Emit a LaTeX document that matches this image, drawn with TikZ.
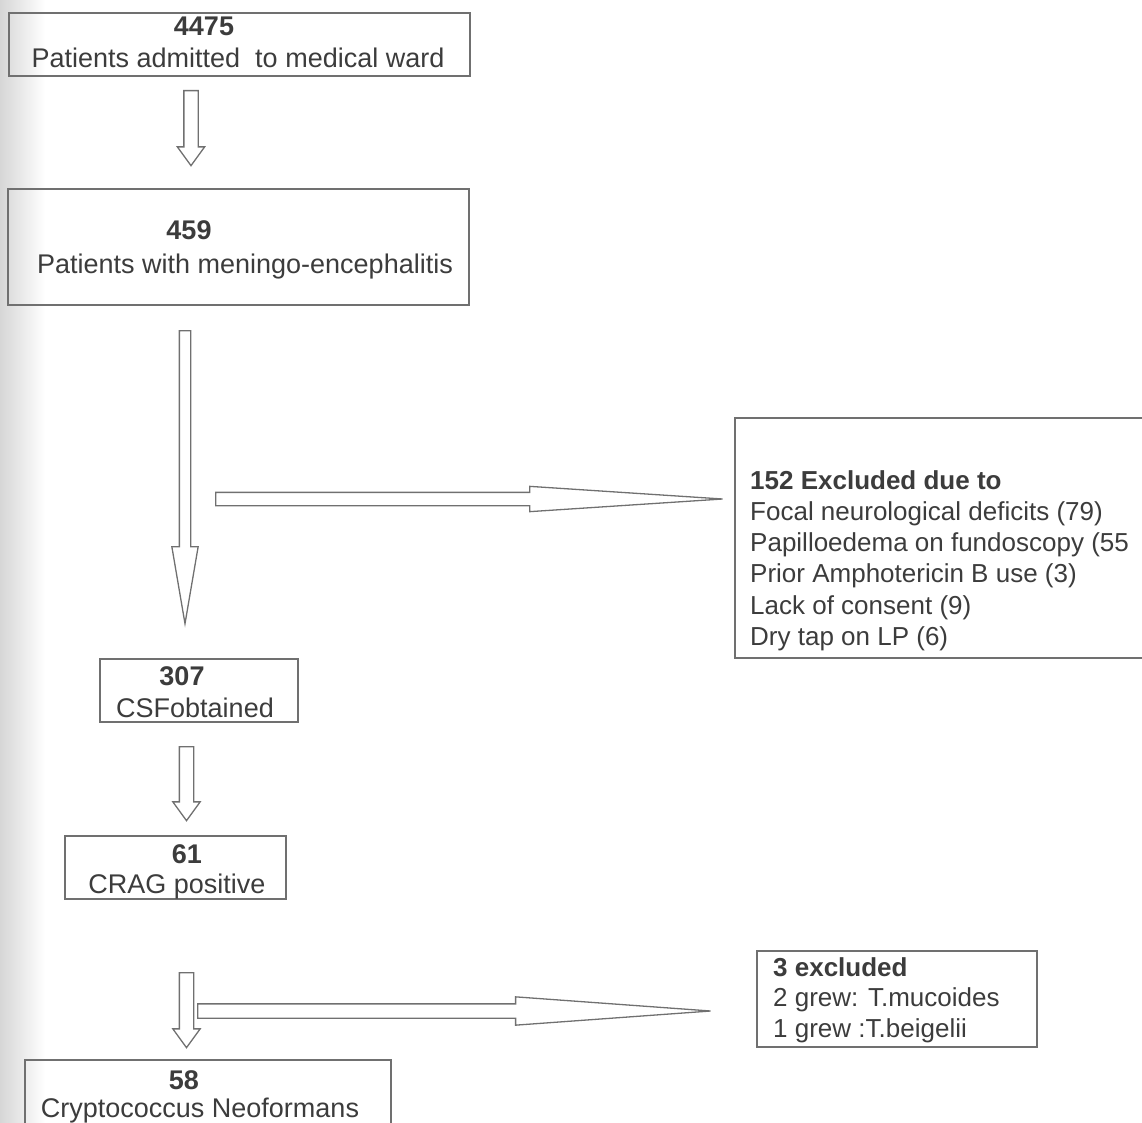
\documentclass[tikz,border=0pt]{standalone}
\usepackage{fontspec}
\setmainfont{Liberation Sans}
\usetikzlibrary{shapes.arrows}
\definecolor{linegray}{HTML}{707070}
\definecolor{inkgray}{HTML}{3C3C3C}
\tikzset{
	box/.style={draw=linegray,line width=1.3pt,rectangle,inner sep=0pt},
	txt/.style={text=inkgray,inner sep=0pt,anchor=base,font=\fontsize{27}{32}\selectfont},
	num/.style={txt,font=\fontsize{27}{32}\selectfont\bfseries},
	list/.style={txt,anchor=north west,align=left,font=\fontsize{26}{31.3}\selectfont},
	stepdown/.style={single arrow,draw=linegray,line width=1.3pt,inner sep=6.5pt,
		single arrow head extend=6.5pt,single arrow tip angle=72,shape border rotate=270,anchor=tail},
	longdown/.style={single arrow,draw=linegray,line width=1.3pt,inner sep=5pt,
		single arrow head extend=7.5pt,single arrow tip angle=19.4,shape border rotate=270,anchor=tail},
	sidearrow/.style={single arrow,draw=linegray,line width=1.3pt,inner sep=6pt,
		single arrow head extend=6pt,single arrow tip angle=7.5,anchor=tail}
}

\begin{document}
\begin{tikzpicture}[x=1pt,y=-1pt]
	\useasboundingbox (0,0) rectangle (1142,1123);
	\clip (0,0) rectangle (1142,1123);
	\shade[left color=black!16,right color=white] (0,0) rectangle (45,1123);

	\node[box,minimum width=461pt,minimum height=63pt] (admitted) at (239.5,44.5) {};
	\node[num] (admittedn) at (204,36) {4475};
	\node[txt] (admittedt) at (238,68) {Patients admitted\ \ to medical ward};

	\node[box,minimum width=461pt,minimum height=116pt] (menin) at (238.5,247) {};
	\node[num] (meninn) at (189,240) {459};
	\node[txt] (menint) at (245,273) {Patients with meningo-encephalitis};

	\node[box,minimum width=435pt,minimum height=240pt] (excl) at (952.5,538) {};
	\node[list] (exclt) at (750,470) {\textbf{152 Excluded due to}\\Focal neurological deficits (79)\\Papilloedema on fundoscopy (55\\Prior Amphotericin B use (3)\\Lack of consent (9)\\Dry tap on LP (6)};

	\node[box,minimum width=198pt,minimum height=63pt] (csf) at (199,690.5) {};
	\node[num] (csfn) at (182,685) {307};
	\node[txt] (csft) at (195,717) {CSFobtained};

	\node[box,minimum width=221pt,minimum height=63pt] (crag) at (175.5,867.5) {};
	\node[num] (cragn) at (187,863) {61};
	\node[txt] (cragt) at (177,893) {CRAG positive};

	\node[box,minimum width=366pt,minimum height=80pt] (crypto) at (208,1100) {};
	\node[num] (crypton) at (184,1089) {58};
	\node[txt] (cryptot) at (200,1117) {Cryptococcus Neoformans};

	\node[box,minimum width=280pt,minimum height=96pt] (grew) at (897,999) {};
	\node[list,font=\fontsize{26}{30.5}\selectfont] (grewt) at (773,957) {\textbf{3 excluded}\\2 grew: T.mucoides\\1 grew :T.beigelii};

	% block arrows between the boxes
	\node[stepdown,minimum height=75pt] (tomenin) at (191,90) {};
	\node[longdown,minimum height=293pt] (tocsf) at (185,330) {};
	\node[sidearrow,minimum height=507pt] (toexcl) at (215,499) {};
	\node[stepdown,minimum height=74pt] (tocrag) at (186.5,746) {};
	\node[stepdown,minimum height=75pt] (tocrypto) at (186.5,972) {};
	\node[sidearrow,minimum height=513pt,inner sep=6.5pt,single arrow head extend=7pt,
		single arrow tip angle=8.3] (togrew) at (197,1011) {};
\end{tikzpicture}
\end{document}
